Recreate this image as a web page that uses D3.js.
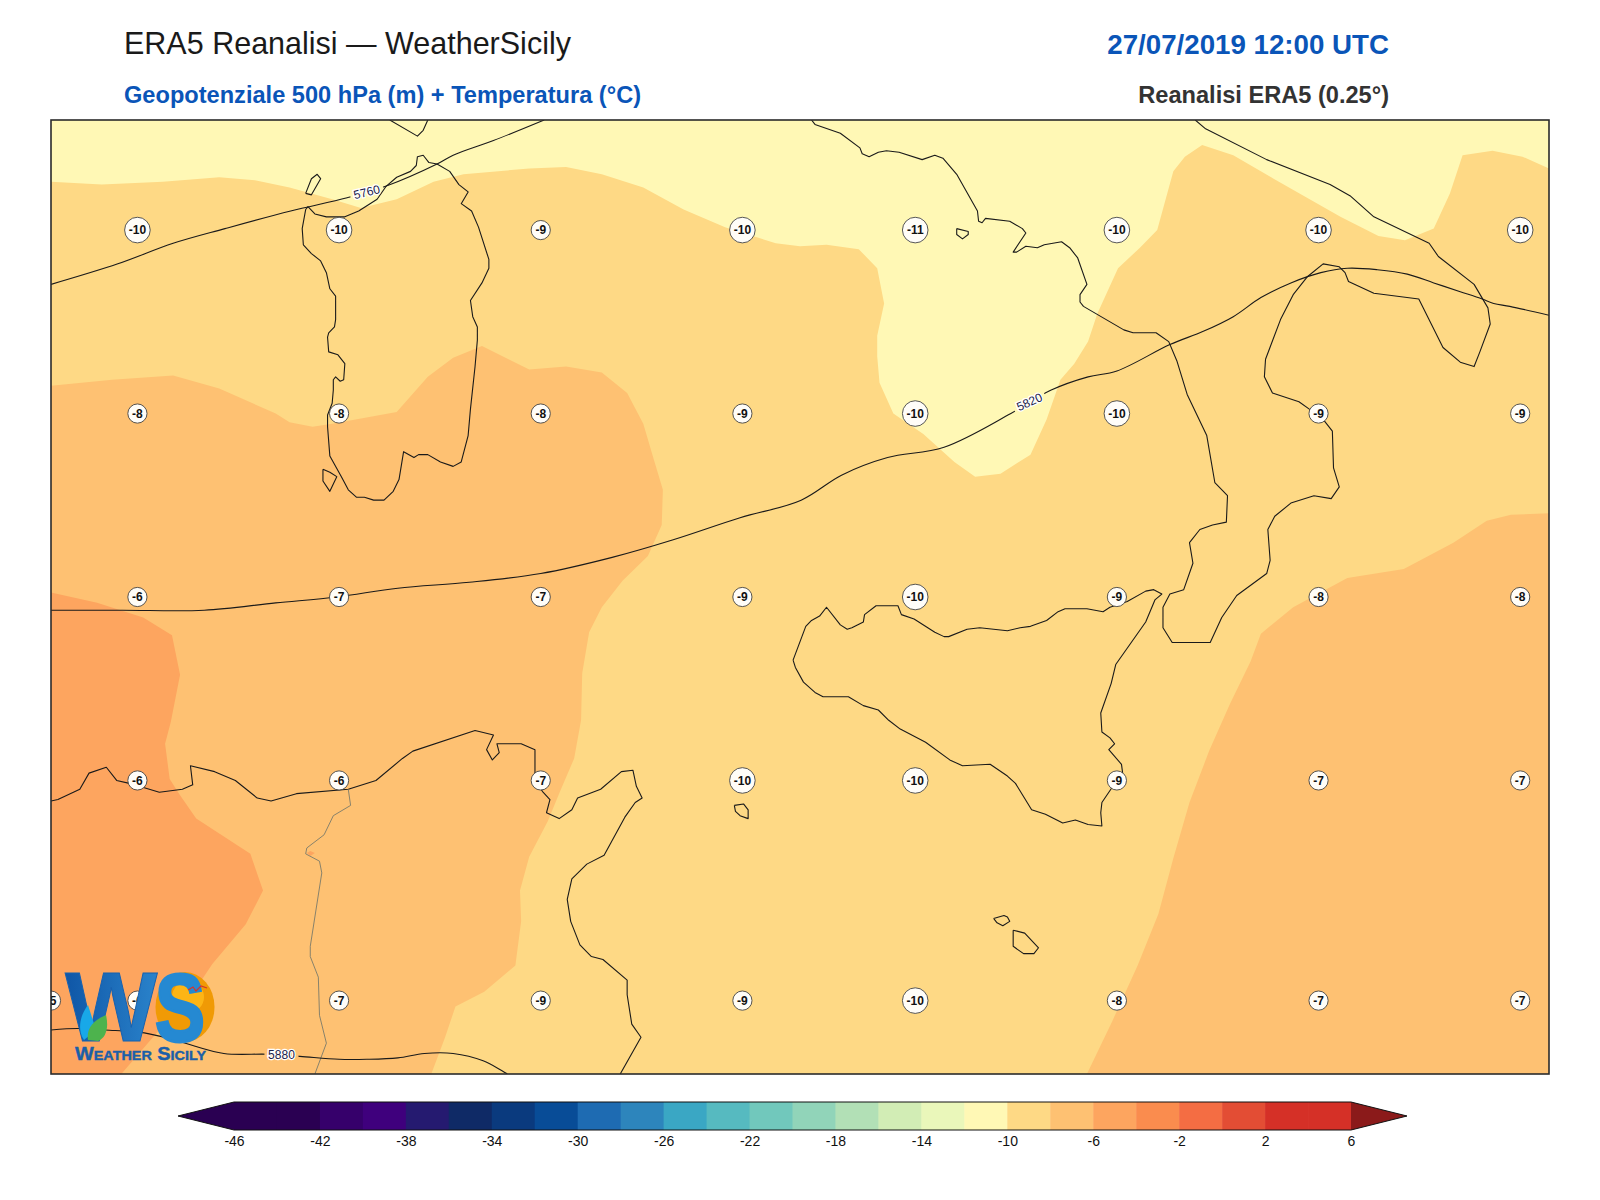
<!DOCTYPE html>
<html>
<head>
<meta charset="utf-8">
<title>ERA5 Reanalisi - WeatherSicily</title>
<script src="https://cdn.jsdelivr.net/npm/d3@7/dist/d3.min.js"></script>
<style>
  html, body { margin: 0; padding: 0; background: #fff; }
  svg { display: block; }
  text { font-family: "Liberation Sans", Arial, sans-serif; }
</style>
</head>
<body>
<script>
// ============================================
// DATA (lon, lat)
// ============================================
const lonExtent = [6, 19];
const latExtent = [35, 41.5];

// temperature bands, polygons of "warmer than level"
const warmerThanMinus10 = [[6,41.08],[6.44,41.06],[6.97,41.08],[7.46,41.11],[7.77,41.09],[8.07,41.04],[8.44,40.96],[8.69,40.9],[9,40.96],[9.32,41.08],[9.58,41.13],[10.15,41.17],[10.47,41.18],[10.78,41.13],[11.14,41.04],[11.49,40.89],[11.85,40.77],[12.29,40.66],[12.5,40.64],[12.73,40.65],[13.01,40.62],[13.17,40.49],[13.23,40.25],[13.17,40.03],[13.17,39.89],[13.19,39.71],[13.31,39.5],[13.57,39.36],[13.84,39.17],[14.02,39.07],[14.24,39.09],[14.5,39.22],[14.64,39.46],[14.76,39.73],[14.88,39.84],[15,39.99],[15.08,40.18],[15.26,40.49],[15.45,40.63],[15.6,40.75],[15.74,41.15],[15.84,41.25],[15.99,41.33],[16.26,41.26],[16.61,41.1],[16.9,40.97],[17.19,40.84],[17.52,40.71],[17.75,40.68],[18,40.76],[18.14,41],[18.25,41.26],[18.51,41.29],[18.77,41.25],[19,41.17],[19,35],[6,35]];
const warmerThanMinus8West = [[6,39.69],[6.53,39.73],[7.06,39.76],[7.46,39.67],[7.95,39.5],[8.07,39.44],[8.27,39.41],[8.44,39.43],[9,39.51],[9.27,39.75],[9.49,39.88],[9.74,39.96],[10.15,39.8],[10.47,39.82],[10.78,39.78],[11,39.64],[11.14,39.43],[11.23,39.19],[11.31,38.98],[11.3,38.74],[11.18,38.53],[10.96,38.36],[10.78,38.18],[10.67,38.01],[10.61,37.73],[10.6,37.41],[10.54,37.15],[10.42,36.93],[10.31,36.72],[10.15,36.48],[10.07,36.25],[10.08,36.04],[10.03,35.74],[9.76,35.56],[9.51,35.46],[9.42,35.25],[9.3,35],[6,35]];
const warmerThanMinus8East = [[16.41,37.81],[16.5,38],[16.78,38.18],[17.25,38.38],[17.74,38.44],[18.17,38.62],[18.46,38.77],[18.67,38.81],[19,38.82],[19,35],[14.99,35],[15.21,35.36],[15.43,35.74],[15.61,36.09],[15.74,36.47],[15.88,36.85],[16.05,37.2],[16.23,37.52]];
const warmerThanMinus6 = [[6,38.28],[6.4,38.21],[6.8,38.11],[7.05,37.99],[7.12,37.72],[7.04,37.4],[6.99,37.25],[7.03,37.01],[7.12,36.9],[7.26,36.74],[7.73,36.5],[7.84,36.25],[7.69,36.02],[7.4,35.75],[7.29,35.62],[6.61,35],[6,35]];
const warmerThanMinus6Spot = [[8.22,36.505],[8.25,36.52],[8.29,36.505],[8.25,36.485]];

// coastlines
const sardinia = [[8.23,40.91],[8.29,40.86],[8.39,40.84],[8.55,40.84],[8.67,40.88],[8.83,40.96],[8.91,41.05],[9,41.11],[9.12,41.15],[9.17,41.19],[9.18,41.25],[9.23,41.26],[9.28,41.21],[9.35,41.2],[9.46,41.15],[9.54,41.06],[9.62,41.01],[9.56,40.93],[9.65,40.88],[9.71,40.77],[9.8,40.55],[9.8,40.49],[9.74,40.39],[9.64,40.27],[9.66,40.16],[9.7,40.09],[9.7,40],[9.68,39.82],[9.64,39.53],[9.62,39.35],[9.56,39.17],[9.49,39.14],[9.38,39.17],[9.27,39.22],[9.19,39.22],[9.15,39.2],[9.06,39.24],[9.02,39.05],[8.97,38.97],[8.89,38.91],[8.8,38.91],[8.72,38.93],[8.65,38.93],[8.58,38.98],[8.52,39.07],[8.42,39.21],[8.4,39.41],[8.4,39.49],[8.44,39.57],[8.45,39.66],[8.45,39.73],[8.47,39.75],[8.51,39.72],[8.54,39.73],[8.55,39.84],[8.49,39.9],[8.41,39.92],[8.4,40.02],[8.41,40.05],[8.46,40.09],[8.47,40.14],[8.47,40.3],[8.42,40.35],[8.39,40.46],[8.34,40.54],[8.26,40.59],[8.19,40.65],[8.18,40.76],[8.21,40.89],[8.23,40.91]];
const asinara = [[8.21,41],[8.26,40.99],[8.34,41.1],[8.31,41.13],[8.26,41.1],[8.21,41]];
const sanPietro = [[8.36,39.12],[8.36,39.04],[8.42,38.97],[8.48,39.07],[8.42,39.1],[8.36,39.12]];
const corsica = [[8.94,41.5],[9.18,41.39],[9.23,41.43],[9.27,41.5]];
const italy = [[12.6,41.5],[12.63,41.47],[12.85,41.41],[13.02,41.31],[13.04,41.27],[13.1,41.25],[13.18,41.28],[13.25,41.29],[13.36,41.28],[13.56,41.23],[13.67,41.26],[13.74,41.24],[13.86,41.13],[14.04,40.88],[14.05,40.81],[14.08,40.8],[14.11,40.83],[14.32,40.81],[14.43,40.76],[14.46,40.73],[14.35,40.6],[14.38,40.6],[14.46,40.64],[14.56,40.63],[14.62,40.65],[14.77,40.67],[14.84,40.63],[14.91,40.56],[14.99,40.38],[14.93,40.31],[14.93,40.26],[14.96,40.23],[15.31,40.07],[15.39,40.05],[15.59,40.05],[15.7,39.99],[15.77,39.86],[15.86,39.63],[16.03,39.35],[16.1,39.03],[16.21,38.94],[16.2,38.76],[16.08,38.74],[15.97,38.71],[15.88,38.62],[15.91,38.48],[15.83,38.3],[15.71,38.27],[15.65,38.18],[15.65,38.04],[15.73,37.94],[16.06,37.94],[16.16,38.11],[16.29,38.26],[16.55,38.41],[16.58,38.5],[16.56,38.71],[16.62,38.8],[16.76,38.89],[16.96,38.94],[17.11,38.92],[17.18,39],[17.13,39.13],[17.12,39.38],[17.05,39.45],[16.92,39.53],[16.83,39.58],[16.6,39.64],[16.53,39.75],[16.54,39.87],[16.67,40.14],[16.78,40.31],[16.9,40.43],[17.04,40.52],[17.18,40.5],[17.23,40.46],[17.26,40.4],[17.48,40.32],[17.87,40.28],[18.08,39.95],[18.23,39.85],[18.35,39.82],[18.4,39.92],[18.49,40.11],[18.47,40.22],[18.35,40.38],[18.04,40.57],[17.96,40.66],[17.48,40.84],[17.28,40.98],[17.1,41.06],[16.55,41.23],[16.02,41.44],[15.93,41.5]];
const ischia = [[13.86,40.76],[13.96,40.74],[13.96,40.72],[13.91,40.69],[13.86,40.72],[13.86,40.76]];
const sicily = [[12.44,37.82],[12.55,38.05],[12.6,38.09],[12.67,38.12],[12.73,38.18],[12.85,38.06],[12.91,38.03],[12.95,38.04],[13.05,38.08],[13.06,38.13],[13.16,38.19],[13.35,38.19],[13.38,38.13],[13.49,38.1],[13.67,38.01],[13.75,37.98],[13.79,37.98],[13.95,38.03],[14.06,38.04],[14.3,38.02],[14.41,38.04],[14.5,38.05],[14.64,38.09],[14.74,38.15],[14.8,38.17],[14.99,38.17],[15.13,38.15],[15.19,38.18],[15.34,38.22],[15.5,38.29],[15.57,38.3],[15.64,38.27],[15.58,38.23],[15.5,38.08],[15.24,37.79],[15.2,37.66],[15.11,37.46],[15.12,37.33],[15.19,37.29],[15.23,37.25],[15.18,37.21],[15.29,37.11],[15.3,37.05],[15.25,37],[15.18,36.92],[15.12,36.85],[15.11,36.78],[15.12,36.69],[15,36.7],[14.89,36.73],[14.78,36.71],[14.63,36.77],[14.51,36.8],[14.37,36.98],[14.3,37.03],[14.15,37.11],[13.91,37.1],[13.8,37.14],[13.59,37.26],[13.37,37.35],[13.27,37.41],[13.18,37.48],[13.05,37.51],[12.92,37.57],[12.7,37.57],[12.63,37.6],[12.53,37.67],[12.46,37.77],[12.44,37.82]];
const pantelleria = [[11.93,36.83],[12.01,36.84],[12.05,36.8],[12.05,36.74],[11.98,36.76],[11.94,36.79],[11.93,36.83]];
const gozo = [[14.18,36.06],[14.27,36.08],[14.3,36.07],[14.32,36.04],[14.26,36.01],[14.21,36.03],[14.18,36.06]];
const malta = [[14.35,35.98],[14.45,35.96],[14.57,35.86],[14.53,35.82],[14.44,35.82],[14.35,35.87],[14.35,35.98]];
const northAfrica = [[6,36.86],[6.06,36.87],[6.25,36.94],[6.33,37.05],[6.48,37.09],[6.57,37],[6.68,36.98],[6.81,36.95],[6.94,36.92],[7.14,36.94],[7.23,36.97],[7.21,37.1],[7.42,37.06],[7.6,37],[7.79,36.88],[7.91,36.86],[8.13,36.91],[8.58,36.94],[8.82,37],[9.05,37.15],[9.14,37.2],[9.68,37.34],[9.84,37.31],[9.78,37.21],[9.83,37.14],[9.89,37.19],[9.87,37.25],[10.08,37.25],[10.2,37.21],[10.2,37],[10.27,36.92],[10.33,36.87],[10.3,36.78],[10.41,36.74],[10.52,36.8],[10.57,36.88],[10.77,36.94],[10.95,37.06],[11.05,37.07],[11.08,36.96],[11.13,36.88],[11.07,36.85],[10.98,36.75],[10.8,36.49],[10.65,36.43],[10.52,36.33],[10.48,36.19],[10.51,36.04],[10.59,35.88],[10.69,35.8],[10.79,35.78],[11,35.64],[11,35.54],[11.04,35.34],[11.12,35.25],[10.94,35]];
const algeriaTunisiaBorder = [[8.58,36.94],[8.6,36.83],[8.45,36.76],[8.37,36.63],[8.22,36.54],[8.21,36.5],[8.33,36.45],[8.35,36.37],[8.25,35.87],[8.25,35.8],[8.32,35.66],[8.33,35.4],[8.39,35.21],[8.29,35]];

// geopotential height contours
const z5760 = [[6,40.38],[6.58,40.52],[7.06,40.66],[7.51,40.76],[8.08,40.88],[8.57,40.97],[8.91,41.05],[9.35,41.2],[9.49,41.26],[9.84,41.36],[10.28,41.5]];
const z5820 = [[6,38.16],[6.62,38.16],[7.33,38.16],[7.95,38.21],[8.48,38.25],[9.01,38.31],[9.63,38.35],[10.25,38.41],[10.87,38.52],[11.4,38.64],[11.98,38.79],[12.51,38.91],[12.86,39.08],[13.26,39.2],[13.75,39.27],[14.33,39.5],[14.68,39.66],[15,39.75],[15.25,39.79],[15.71,39.97],[16,40.06],[16.26,40.16],[16.5,40.29],[16.76,40.39],[17.02,40.46],[17.25,40.49],[17.51,40.48],[17.77,40.45],[18,40.39],[18.23,40.33],[18.42,40.28],[18.52,40.25],[18.66,40.23],[19,40.17]];
const z5880 = [[6,35.3],[6.23,35.31],[6.47,35.3],[6.81,35.28],[7.12,35.22],[7.5,35.14],[7.88,35.135],[8.16,35.12],[8.5,35.1],[8.74,35.1],[9.01,35.11],[9.24,35.14],[9.49,35.14],[9.75,35.09],[9.96,35]];
const contourLabels = [
  { text: "5760", lon: 8.74, lat: 41.01, angle: -14 },
  { text: "5820", lon: 14.49, lat: 39.58, angle: -24 },
  { text: "5880", lon: 8.0, lat: 35.135, angle: 0 }
];

// temperature markers
const gridLons = [6.75, 8.5, 10.25, 12, 13.5, 15.25, 17, 18.75];
const tempRow1 = [-10, -10, -9, -10, -11, -10, -10, -10];  // 40.75N
const tempRow2 = [-8, -8, -8, -9, -10, -10, -9, -9];       // 39.5N
const tempRow3 = [-6, -7, -7, -9, -10, -9, -8, -8];        // 38.25N
const tempRow4 = [-6, -6, -7, -10, -10, -9, -7, -7];       // 37N
const tempRow5 = [-6, -7, -9, -9, -10, -8, -7, -7];        // 35.5N
const gridLats = [40.75, 39.5, 38.25, 37, 35.5];
const edgeMarker = { lon: 6, lat: 35.5, value: -5 };

// colour bar
const levels = d3.range(-46, 7, 2);
const barTicks = d3.range(-46, 7, 4);
const binColors = ["#2a0052","#2a0052","#36006b","#3f007d","#251a70","#0f2a66","#0a3a7e","#084c97","#1e6bb2","#2d85bc","#3aa7c4","#56bac0","#71c8bc","#91d4b9","#b2e0b6","#d2edb5","#eaf7ba","#fff8b5","#fed985","#fec172","#fda55f","#fa8c4e","#f46d43","#e34d34","#d53027","#d53027"];
const underColor = "#2a0052";
const overColor = "#8b1a1a";

// ============================================
// CHART CODE
// ============================================
const frame = { left: 51, right: 1549, top: 120, bottom: 1074 };
const svg = d3.select("body").append("svg").attr("width", 1600).attr("height", 1200);
const defs = svg.append("defs");

const xLon = d3.scaleLinear().domain(lonExtent).range([frame.left, frame.right]);
const yLat = d3.scaleLinear().domain(latExtent).range([frame.bottom, frame.top]);
const line = d3.line().x(d => xLon(d[0])).y(d => yLat(d[1]));
const smoothLine = d3.line().x(d => xLon(d[0])).y(d => yLat(d[1])).curve(d3.curveCatmullRom.alpha(0.5));
const bandColor = d3.scaleThreshold().domain(levels.slice(1, -1)).range(binColors);

// Titles
svg.append("text").attr("x", 124).attr("y", 54).attr("font-size", 30.5).attr("fill", "#1a1a1a").text("ERA5 Reanalisi — WeatherSicily");
svg.append("text").attr("x", 124).attr("y", 103).attr("font-size", 23.6).attr("font-weight", "bold").attr("fill", "#0a55b8").text("Geopotenziale 500 hPa (m) + Temperatura (°C)");
svg.append("text").attr("x", 1389).attr("y", 54).attr("text-anchor", "end").attr("font-size", 27.7).attr("font-weight", "bold").attr("fill", "#0a55b8").text("27/07/2019 12:00 UTC");
svg.append("text").attr("x", 1389).attr("y", 103).attr("text-anchor", "end").attr("font-size", 23.6).attr("font-weight", "bold").attr("fill", "#333").text("Reanalisi ERA5 (0.25°)");

// Map panel
defs.append("clipPath").attr("id", "map-clip").append("rect")
  .attr("x", frame.left).attr("y", frame.top)
  .attr("width", frame.right - frame.left).attr("height", frame.bottom - frame.top);
const map = svg.append("g").attr("clip-path", "url(#map-clip)");

// Filled temperature bands
map.append("rect").attr("x", frame.left).attr("y", frame.top)
  .attr("width", frame.right - frame.left).attr("height", frame.bottom - frame.top)
  .attr("fill", bandColor(-11));
const bands = [
  { poly: warmerThanMinus10, t: -9 },
  { poly: warmerThanMinus8West, t: -7 },
  { poly: warmerThanMinus8East, t: -7 },
  { poly: warmerThanMinus6, t: -5 },
  { poly: warmerThanMinus6Spot, t: -5 }
];
map.selectAll(".band").data(bands).enter().append("path")
  .attr("class", "band")
  .attr("d", d => line(d.poly) + "Z")
  .attr("fill", d => bandColor(d.t));

// Coastlines
const coasts = [sardinia, asinara, sanPietro, corsica, italy, ischia, sicily, pantelleria, gozo, malta, northAfrica];
map.selectAll(".coast").data(coasts).enter().append("path")
  .attr("class", "coast")
  .attr("d", line)
  .attr("fill", "none")
  .attr("stroke", "#1a1a1a")
  .attr("stroke-width", 1.1)
  .attr("stroke-linejoin", "round");
map.append("path").attr("d", line(algeriaTunisiaBorder))
  .attr("fill", "none").attr("stroke", "#7a7a6a").attr("stroke-width", 0.9);

// Gaps in the contours where the labels sit
const gapMask = defs.append("mask").attr("id", "label-gaps").attr("maskUnits", "userSpaceOnUse")
  .attr("x", 0).attr("y", 0).attr("width", 1600).attr("height", 1200);
gapMask.append("rect").attr("width", 1600).attr("height", 1200).attr("fill", "#fff");
gapMask.selectAll(".gap").data(contourLabels).enter().append("rect")
  .attr("class", "gap")
  .attr("x", -17).attr("y", -8).attr("width", 34).attr("height", 16).attr("fill", "#000")
  .attr("transform", d => `translate(${xLon(d.lon)},${yLat(d.lat)}) rotate(${d.angle})`);

// Geopotential contours
map.append("g").attr("mask", "url(#label-gaps)")
  .selectAll(".z500").data([z5760, z5820, z5880]).enter().append("path")
  .attr("class", "z500")
  .attr("d", smoothLine)
  .attr("fill", "none")
  .attr("stroke", "#1a1a1a")
  .attr("stroke-width", 1.1);

map.selectAll(".clabel").data(contourLabels).enter().append("text")
  .attr("class", "clabel")
  .attr("transform", d => `translate(${xLon(d.lon)},${yLat(d.lat)}) rotate(${d.angle})`)
  .attr("text-anchor", "middle").attr("dy", "0.36em")
  .attr("font-size", 12).attr("fill", "#22224a")
  .attr("stroke", "#fff").attr("stroke-width", 2.5).attr("paint-order", "stroke")
  .text(d => d.text);

// Temperature markers
const tempRows = [tempRow1, tempRow2, tempRow3, tempRow4, tempRow5];
const markers = tempRows.flatMap((row, i) => row.map((v, j) => ({ lon: gridLons[j], lat: gridLats[i], value: v })));
markers.push(edgeMarker);
const marker = map.selectAll(".temp").data(markers).enter().append("g")
  .attr("class", "temp")
  .attr("transform", d => `translate(${xLon(d.lon)},${yLat(d.lat)})`);
marker.append("circle")
  .attr("r", d => String(d.value).length > 2 ? 12.8 : 9.6)
  .attr("fill", "#fffdf8").attr("stroke", "#444").attr("stroke-width", 0.9);
marker.append("text")
  .attr("text-anchor", "middle").attr("dy", "0.36em")
  .attr("font-size", 12).attr("font-weight", "bold").attr("fill", "#111")
  .text(d => d.value);

// Frame
svg.append("rect").attr("x", frame.left).attr("y", frame.top)
  .attr("width", frame.right - frame.left).attr("height", frame.bottom - frame.top)
  .attr("fill", "none").attr("stroke", "#2b2b2b").attr("stroke-width", 1.6);

// Logo
const wGrad = defs.append("linearGradient").attr("id", "logo-w").attr("x1", 0).attr("x2", 1).attr("y1", 0).attr("y2", 0);
wGrad.append("stop").attr("offset", "0%").attr("stop-color", "#0f56a6");
wGrad.append("stop").attr("offset", "100%").attr("stop-color", "#2a83cb");
const logo = svg.append("g").attr("class", "logo");
logo.append("ellipse").attr("cx", 185).attr("cy", 1007).attr("rx", 29.5).attr("ry", 35).attr("fill", "#f09a05");
logo.append("ellipse").attr("cx", 188).attr("cy", 997).attr("rx", 16).attr("ry", 16).attr("fill", "#fdb515");
logo.append("text").attr("x", 65).attr("y", 1041).attr("font-size", 98).attr("font-weight", "bold")
  .attr("fill", "url(#logo-w)").attr("stroke", "#1762b0").attr("stroke-width", 1).text("W");
logo.append("text").attr("x", 155).attr("y", 1041).attr("font-size", 97).attr("font-weight", "bold")
  .attr("textLength", 50).attr("lengthAdjust", "spacingAndGlyphs")
  .attr("fill", "#2589d2").attr("stroke", "#2589d2").attr("stroke-width", 3).text("S");
logo.append("path").attr("d", "M84 1040 C77 1030 80 1015 88 1005 L96 1030 Z").attr("fill", "#18a8e8");
logo.append("path").attr("d", "M88 1040 C86 1028 94 1020 106 1015 C109 1028 106 1038 98 1041 Z").attr("fill", "#4db34d");
logo.append("path").attr("d", "M188 990 L193 987 L196 991 L201 986 L207 988").attr("fill", "none").attr("stroke", "#d8342a").attr("stroke-width", 1.2);
logo.append("text").attr("x", 75).attr("y", 1060).attr("textLength", 131).attr("lengthAdjust", "spacingAndGlyphs")
  .attr("font-size", 18).attr("font-weight", "bold").attr("font-variant", "small-caps")
  .attr("fill", "#1b5fa8").attr("stroke", "#1b5fa8").attr("stroke-width", 0.4).text("Weather Sicily");

// Colour bar
const cbY = d3.scaleLinear().domain([0, 1]).range([1102, 1130]);
const cbX = d3.scaleLinear().domain([-46, 6]).range([234, 1351]);
const cbBins = binColors.map((c, i) => ({ color: c, from: levels[i], to: levels[i + 1] }));
const cb = svg.append("g").attr("class", "colorbar");
cb.selectAll("rect").data(cbBins).enter().append("rect")
  .attr("x", d => cbX(d.from))
  .attr("y", cbY(0))
  .attr("width", d => cbX(d.to) - cbX(d.from) + 0.5)
  .attr("height", cbY(1) - cbY(0))
  .attr("fill", d => d.color);
const tipLeft = 178, tipRight = 1407;
const yMid = cbY(0.5);
cb.append("path").attr("d", `M${cbX(-46)},${cbY(0)}L${tipLeft},${yMid}L${cbX(-46)},${cbY(1)}Z`).attr("fill", underColor);
cb.append("path").attr("d", `M${cbX(6)},${cbY(0)}L${tipRight},${yMid}L${cbX(6)},${cbY(1)}Z`).attr("fill", overColor);
cb.append("path")
  .attr("d", `M${cbX(-46)},${cbY(0)}L${tipLeft},${yMid}L${cbX(-46)},${cbY(1)}L${cbX(6)},${cbY(1)}L${tipRight},${yMid}L${cbX(6)},${cbY(0)}Z`)
  .attr("fill", "none").attr("stroke", "#111").attr("stroke-width", 1);

const cbAxis = svg.append("g")
  .attr("transform", `translate(0,${cbY(1)})`)
  .call(d3.axisBottom(cbX).tickValues(barTicks).tickFormat(String).tickSize(0).tickPadding(6));
cbAxis.select(".domain").remove();
cbAxis.selectAll("text").attr("font-size", 14).attr("font-family", "Liberation Sans").attr("fill", "#111");
</script>
</body>
</html>
